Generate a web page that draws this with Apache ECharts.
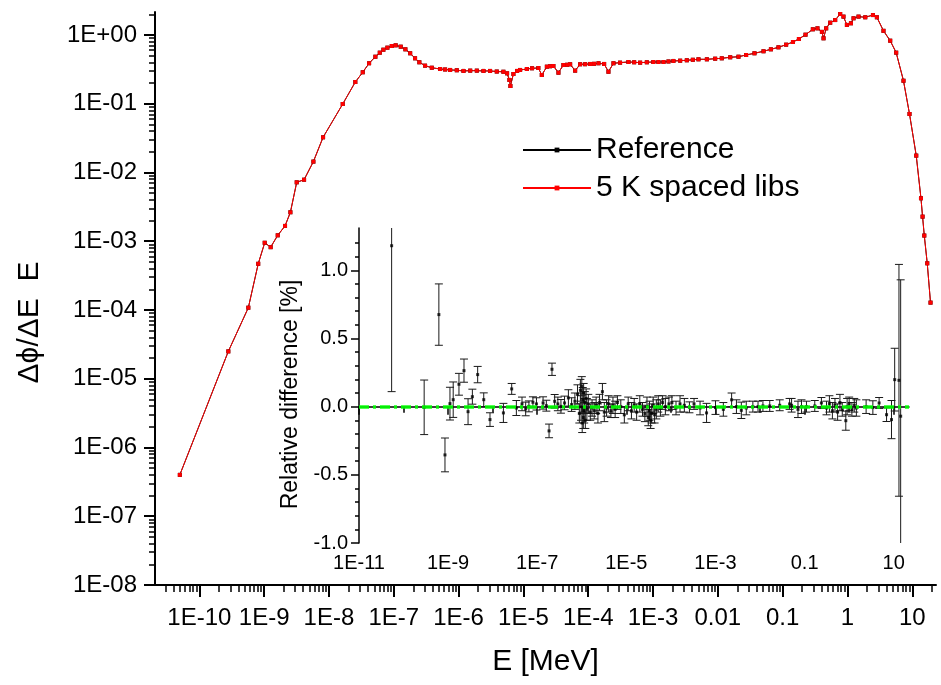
<!DOCTYPE html>
<html>
<head>
<meta charset="utf-8">
<script src="https://cdn.jsdelivr.net/npm/echarts@6/dist/echarts.min.js"></script>
<style>
  html, body { margin: 0; padding: 0; background: #fff; }
  #main { width: 941px; height: 685px; }
</style>
</head>
<body>
<div id="main"></div>
<script>
// spectrum: energy [MeV] and flux per lethargy
var energy = [5.0e-11, 2.8e-10, 5.7e-10, 8.1e-10, 1.02e-9, 1.26e-9, 1.62e-9, 2.10e-9, 2.54e-9, 3.18e-9,
  4.13e-9, 5.75e-9, 8.11e-9, 1.63e-8, 2.55e-8, 3.32e-8, 4.16e-8, 5.20e-8, 6.08e-8, 6.91e-8,
  7.97e-8, 9.31e-8, 1.07e-7, 1.28e-7, 1.51e-7, 1.79e-7, 2.13e-7, 2.48e-7, 3.04e-7, 3.86e-7,
  5.19e-7, 6.19e-7, 7.40e-7, 9.38e-7, 1.19e-6, 1.51e-6, 1.91e-6, 2.42e-6, 3.06e-6, 3.88e-6,
  4.91e-6, 5.60e-6, 6.08e-6, 6.30e-6, 7.01e-6, 8.0e-6, 8.89e-6, 1.13e-5, 1.36e-5, 1.70e-5,
  1.92e-5, 2.30e-5, 2.58e-5, 2.90e-5, 3.47e-5, 4.14e-5, 4.73e-5, 5.26e-5, 6.28e-5, 7.50e-5,
  8.96e-5, 1.07e-4, 1.23e-4, 1.44e-4, 1.76e-4, 2.05e-4, 2.45e-4, 3.10e-4, 4.17e-4, 5.11e-4,
  6.32e-4, 8.02e-4, 1.01e-3, 1.21e-3, 1.45e-3, 1.73e-3, 2.06e-3, 2.62e-3, 3.32e-3, 4.11e-3,
  5.02e-3, 6.77e-3, 9.08e-3, 1.15e-2, 1.55e-2, 2.08e-2, 2.73e-2, 3.67e-2, 5.06e-2, 6.58e-2,
  8.61e-2, 0.113, 0.144, 0.178, 0.225, 0.292, 0.344, 0.403, 0.427, 0.469,
  0.541, 0.646, 0.771, 0.867, 0.979, 1.13, 1.24, 1.48, 1.88, 2.47,
  2.84, 3.59, 4.56, 5.64, 7.31, 9.05, 11.5, 13.6, 14.4, 15.3,
  17.0, 19.1];
var flux = [4.0e-7, 2.5e-5, 1.08e-4, 4.7e-4, 9.5e-4, 8.2e-4, 1.22e-3, 1.67e-3, 2.64e-3, 7.2e-3,
  7.85e-3, 1.44e-2, 3.25e-2, 0.0991, 0.207, 0.287, 0.388, 0.483, 0.553, 0.611,
  0.654, 0.692, 0.708, 0.676, 0.619, 0.542, 0.458, 0.401, 0.358, 0.334,
  0.320, 0.315, 0.310, 0.307, 0.300, 0.303, 0.303, 0.300, 0.300, 0.294,
  0.292, 0.277, 0.222, 0.181, 0.271, 0.300, 0.310, 0.320, 0.328, 0.331,
  0.262, 0.346, 0.351, 0.354, 0.283, 0.366, 0.369, 0.375, 0.303, 0.375,
  0.376, 0.379, 0.381, 0.388, 0.379, 0.292, 0.388, 0.396, 0.405, 0.401,
  0.396, 0.401, 0.405, 0.405, 0.405, 0.412, 0.419, 0.423, 0.429, 0.436,
  0.443, 0.443, 0.452, 0.458, 0.474, 0.483, 0.512, 0.542, 0.580, 0.619,
  0.662, 0.723, 0.791, 0.875, 1.01, 1.21, 1.25, 1.11, 0.895, 1.25,
  1.51, 1.65, 2.02, 1.85, 1.40, 1.48, 1.75, 1.85, 1.81, 1.95,
  1.81, 1.15, 0.826, 0.553, 0.216, 0.0710, 0.0176, 4.22e-3, 2.28e-3, 1.21e-3,
  4.78e-4, 1.28e-4];

// inset: relative difference [%] and its uncertainty
var diffE = [5.4e-11, 2.9e-10, 6.2e-10, 8.5e-10, 1.1e-9, 1.3e-9, 1.75e-9, 2.27e-9, 2.8e-9, 3.5e-9,
  4.6e-9, 6.3e-9, 8.7e-9, 1.74e-8, 2.67e-8, 3.4e-8, 4.55e-8, 5.5e-8, 6.5e-8, 8.0e-8,
  9.6e-8, 1.35e-7, 1.6e-7, 1.84e-7, 2.14e-7, 2.46e-7, 2.9e-7, 3.4e-7, 4.1e-7, 5.0e-7,
  5.9e-7, 7.0e-7, 8.0e-7, 8.8e-7, 9.3e-7, 9.6e-7, 1.0e-6, 1.02e-6, 1.05e-6, 1.08e-6,
  1.1e-6, 1.13e-6, 1.17e-6, 1.2e-6, 1.25e-6, 1.3e-6, 1.4e-6, 1.55e-6, 1.7e-6, 1.9e-6,
  2.1e-6, 2.3e-6, 2.5e-6, 2.9e-6, 3.2e-6, 3.6e-6, 4.0e-6, 4.5e-6, 5.0e-6, 5.6e-6,
  6.3e-6, 7.5e-6, 9.0e-6, 1.1e-5, 1.3e-5, 1.5e-5, 1.7e-5, 2.0e-5, 2.3e-5, 2.6e-5,
  2.9e-5, 3.1e-5, 3.3e-5, 3.5e-5, 3.7e-5, 4.0e-5, 4.3e-5, 4.7e-5, 5.2e-5, 5.8e-5,
  6.5e-5, 7.5e-5, 9.0e-5, 1.05e-4, 1.3e-4, 1.6e-4, 2.0e-4, 2.6e-4, 3.3e-4, 4.5e-4,
  6.3e-4, 1.0e-3, 1.5e-3, 2.3e-3, 2.95e-3, 3.8e-3, 4.9e-3, 6.9e-3, 9.0e-3, 1.16e-2,
  1.65e-2, 2.76e-2, 4.6e-2, 5.1e-2, 7.1e-2, 8.5e-2, 0.11, 0.169, 0.238, 0.31,
  0.36, 0.42, 0.48, 0.55, 0.62, 0.70, 0.84, 0.9, 1.0, 1.15,
  1.3, 1.45, 2.4, 3.4, 4.7, 6.9, 8.9, 10.5, 13.1, 14.3];
var diffVal = [1.18, -0.005, 0.675, -0.354, 0.022, 0.051, 0.164, 0.264, -0.037, 0.073,
  0.235, 0.051, -0.095, -0.046, 0.13, -0.01, 0.02, -0.017, 0.002, 0.032,
  0.02, 0.027, 0.007, -0.178, 0.274, 0.039, 0.02, 0.002, 0.027, 0.064,
  0.015, 0.04, 0.09, -0.05, 0.12, 0.0, 0.15, -0.12, 0.05, -0.08,
  0.1, -0.03, 0.03, -0.1, 0.06, -0.02, 0.02, -0.04, -0.01, -0.03,
  0.01, -0.05, 0.03, 0.11, -0.04, -0.01, 0.02, -0.03, 0.01, -0.02,
  0.03, 0.0, -0.06, 0.02, -0.03, 0.01, -0.04, 0.02, -0.02, -0.05,
  0.0, -0.08, -0.03, -0.1, -0.05, 0.01, -0.06, -0.02, 0.02, -0.01,
  0.03, 0.0, 0.02, 0.03, -0.01, 0.02, 0.01, -0.005, 0.02, -0.01,
  -0.046, -0.007, -0.02, 0.05, 0.0, -0.027, -0.01, 0.0, 0.0, 0.005,
  0.005, 0.01, 0.02, 0.01, -0.02, 0.0, 0.0, 0.005, 0.027, -0.01,
  0.02, -0.03, 0.01, -0.04, 0.03, -0.02, -0.103, 0.0, 0.02, -0.02,
  0.01, -0.01, 0.0, -0.007, 0.027, -0.059, -0.095, 0.198, 0.193, -0.07];
var diffErr = [1.07, 0.2, 0.225, 0.124, 0.12, 0.13, 0.08, 0.085, 0.095, 0.055,
  0.06, 0.05, 0.05, 0.07, 0.04, 0.055, 0.05, 0.05, 0.04, 0.04,
  0.045, 0.045, 0.04, 0.05, 0.045, 0.05, 0.05, 0.05, 0.05, 0.06,
  0.05, 0.06, 0.07, 0.07, 0.08, 0.1, 0.07, 0.07, 0.09, 0.08,
  0.07, 0.09, 0.08, 0.06, 0.07, 0.08, 0.07, 0.06, 0.06, 0.06,
  0.06, 0.07, 0.06, 0.06, 0.07, 0.06, 0.06, 0.05, 0.06, 0.06,
  0.05, 0.05, 0.06, 0.05, 0.06, 0.05, 0.06, 0.06, 0.05, 0.06,
  0.07, 0.06, 0.07, 0.06, 0.07, 0.06, 0.06, 0.07, 0.06, 0.06,
  0.05, 0.06, 0.05, 0.05, 0.05, 0.06, 0.05, 0.04, 0.04, 0.05,
  0.07, 0.05, 0.05, 0.05, 0.05, 0.06, 0.05, 0.04, 0.04, 0.04,
  0.04, 0.04, 0.04, 0.05, 0.06, 0.05, 0.04, 0.04, 0.04, 0.05,
  0.06, 0.06, 0.05, 0.06, 0.06, 0.05, 0.07, 0.06, 0.05, 0.05,
  0.05, 0.06, 0.05, 0.05, 0.04, 0.05, 0.14, 0.23, 0.85, 1.0];

var mainXLabels = [1e-10, 1e-9, 1e-8, 1e-7, 1e-6, 1e-5, 1e-4, 1e-3, 0.01, 0.1, 1, 10];
var mainYLabels = [1e-8, 1e-7, 1e-6, 1e-5, 1e-4, 1e-3, 1e-2, 1e-1, 1];
var insetXLabels = [1e-11, 1e-9, 1e-7, 1e-5, 1e-3, 0.1, 10];
var insetYLabels = [-1, -0.5, 0, 0.5, 1];
var insetYMinor = [-0.9, -0.8, -0.7, -0.6, -0.4, -0.3, -0.2, -0.1, 0.1, 0.2, 0.3, 0.4, 0.6, 0.7, 0.8, 0.9, 1.1, 1.2];

var FONT = "'Liberation Sans', Arial, sans-serif";
var X_MIN = 2.07e-11, X_MAX = 23.2, Y_MIN = 1e-8, Y_MAX = 2.16;
var IX_MIN = 1e-11, IX_MAX = 22, IY_MIN = -1, IY_MAX = 1.31;

function decades(lo, hi) {
  var out = [];
  for (var n = -12; n <= 2; n++) {
    var v = Math.pow(10, n);
    if (v >= lo * 0.999 && v <= hi * 1.001) out.push(v);
  }
  return out;
}
function minors(lo, hi) {
  var out = [];
  for (var n = -12; n <= 2; n++) {
    for (var k = 2; k <= 9; k++) {
      var v = k * Math.pow(10, n);
      if (v >= lo && v <= hi) out.push(v);
    }
  }
  return out;
}
function expOf(v) { return Math.round(Math.log(v) / Math.LN10); }
function fmtMainX(v) {
  var e = expOf(v);
  if (e === 1) return '10';
  if (e === 0) return '1';
  if (e === -1) return '0.1';
  if (e === -2) return '0.01';
  return '1E' + e;
}
function fmtMainY(v) {
  var e = expOf(v);
  var a = Math.abs(e);
  return '1E' + (e < 0 ? '-' : '+') + (a < 10 ? '0' + a : a);
}
function fmtInsetX(v) {
  var e = expOf(v);
  if (e === 1) return '10';
  if (e === -1) return '0.1';
  return '1E' + e;
}

var fluxPts = energy.map(function (e, i) { return [e, flux[i]]; });
var diffPts = diffE.map(function (e, i) { return [e, diffVal[i], diffErr[i]]; });

function renderErr(params, api) {
  var x = api.value(0), v = api.value(1), e = api.value(2);
  var top = api.coord([x, v + e]);
  var bot = api.coord([x, v - e]);
  var cs = params.coordSys;
  var y0 = Math.max(top[1], cs.y);
  var y1 = Math.min(bot[1], cs.y + cs.height);
  var st = { stroke: '#1a1a1a', lineWidth: 1 };
  var kids = [{ type: 'line', shape: { x1: top[0], y1: y0, x2: top[0], y2: y1 }, style: st }];
  if (top[1] >= cs.y) kids.push({ type: 'line', shape: { x1: top[0] - 4, y1: top[1], x2: top[0] + 4, y2: top[1] }, style: st });
  if (bot[1] <= cs.y + cs.height) kids.push({ type: 'line', shape: { x1: bot[0] - 4, y1: bot[1], x2: bot[0] + 4, y2: bot[1] }, style: st });
  return { type: 'group', children: kids };
}

var chart = echarts.init(document.getElementById('main'));
var black = '#000';

chart.setOption({
  backgroundColor: '#fff',
  animation: false,
  textStyle: { fontFamily: FONT },
  grid: [
    { left: 155, top: 12, width: 781, height: 573 },
    { left: 359, top: 228, width: 550, height: 315 }
  ],
  legend: {
    data: ['Reference', '5 K spaced libs'],
    orient: 'vertical',
    left: 517, top: 130,
    itemWidth: 68, itemHeight: 6, itemGap: 8,
    textStyle: { fontSize: 30, fontFamily: FONT, color: '#000', lineHeight: 30 }
  },
  xAxis: [
    { type: 'log', gridIndex: 0, min: X_MIN, max: X_MAX, position: 'bottom',
      name: 'E [MeV]', nameLocation: 'middle', nameGap: 62,
      nameTextStyle: { fontSize: 30, color: black, fontFamily: FONT },
      axisLine: { lineStyle: { color: black, width: 2 } },
      axisTick: { customValues: mainXLabels, length: 12, lineStyle: { color: black, width: 2 } },
      axisLabel: { customValues: mainXLabels, formatter: fmtMainX, margin: 21, fontSize: 24, color: black },
      splitLine: { show: false } },
    { type: 'log', gridIndex: 0, min: X_MIN, max: X_MAX, position: 'bottom',
      axisLine: { show: false },
      axisTick: { customValues: minors(X_MIN, X_MAX), length: 7, lineStyle: { color: black, width: 1.5 } },
      axisLabel: { show: false }, splitLine: { show: false } },
    { type: 'log', gridIndex: 1, min: IX_MIN, max: IX_MAX, position: 'bottom',
      axisLine: { lineStyle: { color: black, width: 1.5 } },
      axisTick: { customValues: insetXLabels, length: 8, lineStyle: { color: black, width: 1.5 } },
      axisLabel: { customValues: insetXLabels, formatter: fmtInsetX, margin: 10, fontSize: 20, color: black },
      splitLine: { show: false } },
    { type: 'log', gridIndex: 1, min: IX_MIN, max: IX_MAX, position: 'bottom',
      axisLine: { show: false },
      axisTick: { customValues: decades(IX_MIN, IX_MAX), length: 6, lineStyle: { color: black, width: 1.5 } },
      axisLabel: { show: false }, splitLine: { show: false } }
  ],
  yAxis: [
    { type: 'log', gridIndex: 0, min: Y_MIN, max: Y_MAX, position: 'left',
      name: 'Δϕ/ΔE  E', nameLocation: 'middle', nameGap: 110,
      nameTextStyle: { fontSize: 30, color: black, fontFamily: FONT, padding: [0, 48, 0, 0] },
      axisLine: { lineStyle: { color: black, width: 2 } },
      axisTick: { customValues: mainYLabels, length: 11, lineStyle: { color: black, width: 2 } },
      axisLabel: { customValues: mainYLabels, formatter: fmtMainY, margin: 18, fontSize: 24, color: black },
      splitLine: { show: false } },
    { type: 'log', gridIndex: 0, min: Y_MIN, max: Y_MAX, position: 'left',
      axisLine: { show: false },
      axisTick: { customValues: minors(Y_MIN, Y_MAX), length: 6, lineStyle: { color: black, width: 1.5 } },
      axisLabel: { show: false }, splitLine: { show: false } },
    { type: 'value', gridIndex: 1, min: IY_MIN, max: IY_MAX, position: 'left',
      name: 'Relative difference [%]', nameLocation: 'middle', nameGap: 50,
      nameTextStyle: { fontSize: 23, color: black, fontFamily: FONT, padding: [0, 18, 0, 0] },
      axisLine: { lineStyle: { color: black, width: 1.5 } },
      axisTick: { customValues: insetYLabels, length: 8, lineStyle: { color: black, width: 1.5 } },
      axisLabel: { customValues: insetYLabels, formatter: function (v) { return v.toFixed(1); }, margin: 11, fontSize: 20, color: black },
      splitLine: { show: false } },
    { type: 'value', gridIndex: 1, min: IY_MIN, max: IY_MAX, position: 'left',
      axisLine: { show: false },
      axisTick: { customValues: insetYMinor, length: 4, lineStyle: { color: black, width: 1.5 } },
      axisLabel: { show: false }, splitLine: { show: false } }
  ],
  series: [
    { name: 'Reference', type: 'line', xAxisIndex: 0, yAxisIndex: 0, data: fluxPts,
      symbol: 'rect', symbolSize: 4, showSymbol: true,
      itemStyle: { color: black }, lineStyle: { color: black, width: 1 } },
    { name: '5 K spaced libs', type: 'line', xAxisIndex: 0, yAxisIndex: 0, data: fluxPts,
      symbol: 'rect', symbolSize: 4, showSymbol: true,
      itemStyle: { color: '#ff0000' }, lineStyle: { color: '#ff0000', width: 1 } },
    { name: 'errbars', type: 'custom', xAxisIndex: 2, yAxisIndex: 2, data: diffPts,
      renderItem: renderErr, encode: { x: 0, y: 1 }, z: 3 },
    { name: 'diff', type: 'scatter', xAxisIndex: 2, yAxisIndex: 2, data: diffPts,
      symbol: 'rect', symbolSize: 3, itemStyle: { color: black }, z: 4 },
    { name: 'zero', type: 'line', xAxisIndex: 2, yAxisIndex: 2, data: [], z: 6,
      markLine: {
        silent: true, symbol: 'none', label: { show: false },
        lineStyle: { color: '#00ff00', width: 3.5, type: [10, 4, 3, 4], opacity: 0.9 },
        data: [{ yAxis: 0 }]
      } }
  ]
});
</script>
</body>
</html>
